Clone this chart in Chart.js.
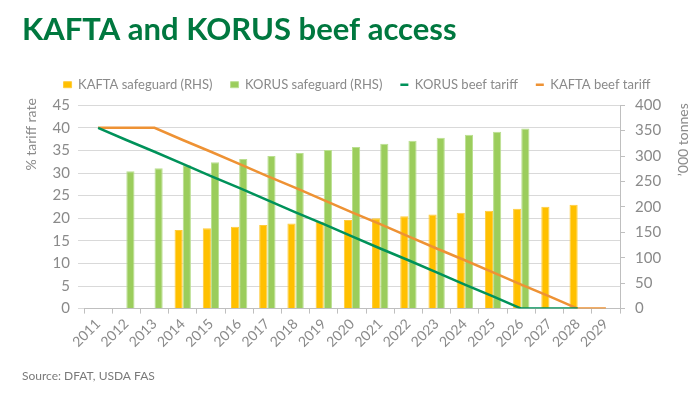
<!DOCTYPE html>
<html>
<head>
<meta charset="utf-8">
<script src="https://cdn.jsdelivr.net/npm/chart.js@4"></script>
<style>
  html, body { margin: 0; padding: 0; background: #fff; }
  #wrap { width: 700px; height: 397px; }
</style>
</head>
<body>
<div id="wrap"><canvas id="beefChart" width="700" height="397"></canvas></div>
<script>
// years on the x axis
const years = ["2011", "2012", "2013", "2014", "2015", "2016", "2017", "2018", "2019", "2020",
  "2021", "2022", "2023", "2024", "2025", "2026", "2027", "2028", "2029"];

// safeguard volumes, '000 tonnes (right axis)
const kaftaSafeguard = [null, null, null, 154.8, 157.9, 161.1, 164.3, 167.6, 170.9, 174.3,
  177.8, 181.4, 185.0, 188.7, 192.5, 196.3, 200.3, 204.3, null];
const korusSafeguard = [null, 270, 276, 282, 288, 294, 300, 306, 312, 318,
  324, 330, 336, 342, 348, 354, null, null, null];

// beef tariff rates, % (left axis)
const korusTariff = [40, 37.3, 34.7, 32, 29.3, 26.7, 24, 21.3, 18.7, 16,
  13.3, 10.7, 8, 5.3, 2.7, 0, 0, 0, null];
const kaftaTariff = [40, 40, 40, 37.3, 34.7, 32, 29.3, 26.7, 24, 21.3,
  18.7, 16, 13.3, 10.7, 8, 5.3, 2.7, 0, 0];

const leftTicks = [0, 45, 5];
const rightTicks = [0, 400, 50];

const grey = "#8a8a8a";
const fontFamily = "Lato, 'Open Sans', sans-serif";

// axis titles read bottom-to-top on both sides
const axisTitles = {
  id: "axisTitles",
  beforeLayout(chart) {
    // a bit more room under the legend
    const lg = chart.legend;
    if (lg && !lg._padded) {
      const fit = lg.fit;
      lg.fit = function () { fit.call(this); this.height += 4; };
      lg._padded = true;
    }
  },
  afterDraw(chart) {
    const { ctx, chartArea } = chart;
    ctx.save();
    ctx.fillStyle = grey;
    ctx.font = "14px " + fontFamily;
    ctx.textAlign = "right";
    ctx.textBaseline = "middle";
    ctx.translate(31, chartArea.top - 7);
    ctx.rotate(-Math.PI / 2);
    ctx.fillText("% tariff rate", 0, 0);
    ctx.restore();

    ctx.save();
    ctx.fillStyle = grey;
    ctx.font = "14px " + fontFamily;
    ctx.textAlign = "right";
    ctx.textBaseline = "middle";
    ctx.translate(683, chartArea.top - 2);
    ctx.rotate(-Math.PI / 2);
    ctx.fillText("\u2019000 tonnes", 0, 0);
    ctx.restore();
  }
};

new Chart(document.getElementById("beefChart"), {
  type: "bar",
  data: {
    labels: years,
    datasets: [
      {
        label: "KAFTA safeguard (RHS)",
        data: kaftaSafeguard,
        yAxisID: "y1",
        backgroundColor: "#FFC000",
        borderColor: "#FFCB3A",
        borderWidth: 1,
        pointStyle: "rect",
        order: 2
      },
      {
        label: "KORUS safeguard (RHS)",
        data: korusSafeguard,
        yAxisID: "y1",
        backgroundColor: "#9BCD5C",
        borderColor: "#BADF90",
        borderWidth: 1,
        pointStyle: "rect",
        order: 2
      },
      {
        type: "line",
        label: "KORUS beef tariff",
        data: korusTariff,
        yAxisID: "y",
        borderColor: "#00925A",
        backgroundColor: "#00925A",
        borderWidth: 2.5,
        pointRadius: 0,
        pointStyle: "line",
        tension: 0,
        order: 1
      },
      {
        type: "line",
        label: "KAFTA beef tariff",
        data: kaftaTariff,
        yAxisID: "y",
        borderColor: "#EE9234",
        backgroundColor: "#EE9234",
        borderWidth: 2.5,
        pointRadius: 0,
        pointStyle: "line",
        tension: 0,
        order: 1
      }
    ]
  },
  options: {
    responsive: false,
    animation: false,
    layout: { padding: { left: 22, right: 8, top: 0, bottom: 0 } },
    datasets: {
      bar: { categoryPercentage: 0.58, barPercentage: 1.0 }
    },
    plugins: {
      title: {
        display: true,
        text: "KAFTA and KORUS beef access",
        align: "start",
        color: "#00783F",
        font: { family: fontFamily, size: 31, weight: "bold" },
        padding: { top: 11, bottom: 12 }
      },
      subtitle: {
        display: true,
        position: "bottom",
        text: "Source: DFAT, USDA FAS",
        align: "start",
        color: "#7a7a7a",
        font: { family: fontFamily, size: 12 },
        padding: { top: 0, bottom: 14 }
      },
      legend: {
        position: "top",
        labels: {
          sort: (a, b) => a.datasetIndex - b.datasetIndex,
          color: grey,
          font: { family: fontFamily, size: 13 },
          usePointStyle: true,
          boxHeight: 6,
          pointStyleWidth: 8,
          padding: 18
        }
      },
      tooltip: { enabled: false }
    },
    scales: {
      x: {
        offset: true,
        grid: { drawOnChartArea: false, tickLength: 5, color: "#BFBFBF" },
        border: { color: "#BFBFBF" },
        ticks: {
          color: grey,
          font: { family: fontFamily, size: 14 },
          minRotation: 45,
          maxRotation: 45,
          autoSkip: false,
          padding: 2
        },
        afterFit(scale) { scale.height = 60; }
      },
      y: {
        position: "left",
        min: leftTicks[0],
        max: leftTicks[1],
        grid: { color: "#D9D9D9", tickLength: 6 },
        border: { display: false },
        ticks: {
          stepSize: leftTicks[2],
          autoSkip: false,
          color: grey,
          font: { family: fontFamily, size: 15 },
          padding: 8
        },
        afterFit(scale) { scale.width = 62; }
      },
      y1: {
        position: "right",
        min: rightTicks[0],
        max: rightTicks[1],
        grid: { drawOnChartArea: false, tickLength: 5, color: "#BFBFBF" },
        border: { color: "#BFBFBF" },
        ticks: {
          stepSize: rightTicks[2],
          autoSkip: false,
          color: grey,
          font: { family: fontFamily, size: 15 },
          padding: 10
        },
        afterFit(scale) { scale.width = 72; }
      }
    }
  },
  plugins: [axisTitles]
});
</script>
</body>
</html>
